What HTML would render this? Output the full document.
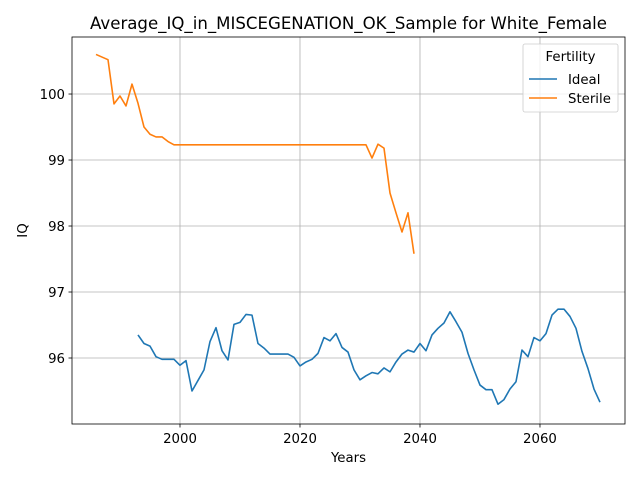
<!DOCTYPE html>
<html><head><meta charset="utf-8"><style>
body{margin:0;background:#fff;font-family:"Liberation Sans","DejaVu Sans",sans-serif;}
svg text{font-family:"DejaVu Sans","Liberation Sans",sans-serif;}
</style></head><body>
<svg id="chart" width="640" height="480" xmlns="http://www.w3.org/2000/svg"></svg>
<script>
const idealYears = [1993,1994,1995,1996,1997,1998,1999,2000,2001,2002,2003,2004,2005,2006,2007,2008,2009,2010,2011,2012,2013,2014,2015,2016,2017,2018,2019,2020,2021,2022,2023,2024,2025,2026,2027,2028,2029,2030,2031,2032,2033,2034,2035,2036,2037,2038,2039,2040,2041,2042,2043,2044,2045,2046,2047,2048,2049,2050,2051,2052,2053,2054,2055,2056,2057,2058,2059,2060,2061,2062,2063,2064,2065,2066,2067,2068,2069,2070];
const idealValues = [96.35,96.22,96.18,96.02,95.98,95.98,95.98,95.89,95.96,95.50,95.66,95.82,96.25,96.46,96.11,95.97,96.51,96.54,96.66,96.65,96.22,96.15,96.06,96.06,96.06,96.06,96.01,95.88,95.94,95.98,96.07,96.31,96.26,96.37,96.16,96.09,95.82,95.67,95.73,95.78,95.76,95.85,95.79,95.94,96.06,96.12,96.09,96.22,96.11,96.35,96.45,96.53,96.70,96.55,96.39,96.07,95.82,95.59,95.52,95.52,95.30,95.37,95.53,95.64,96.12,96.02,96.31,96.26,96.37,96.65,96.74,96.74,96.63,96.45,96.10,95.84,95.53,95.33];
const sterileYears = [1986,1987,1988,1989,1990,1991,1992,1993,1994,1995,1996,1997,1998,1999,2000,2001,2002,2003,2004,2005,2006,2007,2008,2009,2010,2011,2012,2013,2014,2015,2016,2017,2018,2019,2020,2021,2022,2023,2024,2025,2026,2027,2028,2029,2030,2031,2032,2033,2034,2035,2036,2037,2038,2039];
const sterileValues = [100.60,100.56,100.52,99.85,99.97,99.82,100.15,99.86,99.50,99.39,99.35,99.35,99.28,99.23,99.23,99.23,99.23,99.23,99.23,99.23,99.23,99.23,99.23,99.23,99.23,99.23,99.23,99.23,99.23,99.23,99.23,99.23,99.23,99.23,99.23,99.23,99.23,99.23,99.23,99.23,99.23,99.23,99.23,99.23,99.23,99.23,99.03,99.24,99.18,98.50,98.20,97.91,98.20,97.58];
const xTicks = [2000,2020,2040,2060];
const yTicks = [96,97,98,99,100];

const L=72,R=625,T=37,B=424;
const X0=1982,X1=2074.17,Y0=95.0,Y1=100.864;
const sx=v=>L+(v-X0)/(X1-X0)*(R-L);
const sy=v=>B-(v-Y0)/(Y1-Y0)*(B-T);
const svg=document.getElementById('chart');
const NS='http://www.w3.org/2000/svg';
function mk(tag,attrs,parent){const e=document.createElementNS(NS,tag);for(const k in attrs)e.setAttribute(k,attrs[k]);(parent||svg).appendChild(e);return e;}

xTicks.forEach(t=>{
  const x=sx(t);
  const g=mk('line',{x1:x,x2:x,y1:T,y2:B,stroke:'#b0b0b0','stroke-width':0.8});
  
  
  mk('line',{x1:x,x2:x,y1:B,y2:B+3.5,stroke:'#000','stroke-width':0.8});
  const tx=mk('text',{x:x,y:B+19,'font-size':13.3,'text-anchor':'middle',fill:'#000'});
  tx.textContent=t;
  
  
});
yTicks.forEach(t=>{
  const y=sy(t);
  const g=mk('line',{x1:L,x2:R,y1:y,y2:y,stroke:'#b0b0b0','stroke-width':0.8});
  
  
  mk('line',{x1:L-3.5,x2:L,y1:y,y2:y,stroke:'#000','stroke-width':0.8});
  const tx=mk('text',{x:L-7,y:y+4.8,'font-size':13.3,'text-anchor':'end',fill:'#000'});
  tx.textContent=t;
  
  
});

function series(xs,ys,color,name){
  const d=xs.map((x,i)=>(i?'L':'M')+sx(x).toFixed(2)+','+sy(ys[i]).toFixed(2)).join('');
  const p=mk('path',{d:d,fill:'none',stroke:color,'stroke-width':1.6,'stroke-linejoin':'round'});
  
  
}
series(idealYears,idealValues,'#1f77b4','ideal-line');
series(sterileYears,sterileValues,'#ff7f0e','sterile-line');

const frame=mk('rect',{x:L,y:T,width:R-L,height:B-T,fill:'none',stroke:'#000','stroke-width':0.8});



const title=mk('text',{x:(L+R)/2,y:29,'font-size':16.6,'text-anchor':'middle',fill:'#000'});
title.textContent='Average_IQ_in_MISCEGENATION_OK_Sample for White_Female';


const xl=mk('text',{x:(L+R)/2,y:462,'font-size':13.3,'text-anchor':'middle',fill:'#000'});
xl.textContent='Years';


const yl=mk('text',{x:0,y:0,'font-size':13.3,'text-anchor':'middle',fill:'#000',transform:'translate(27,'+((T+B)/2)+') rotate(-90)'});
yl.textContent='IQ';



const lg=mk('g',{});


mk('rect',{x:523,y:44,width:95,height:68,rx:2,fill:'#fff','fill-opacity':0.8,stroke:'#ccc','stroke-width':0.8},lg);
const lt=mk('text',{x:570.5,y:61,'font-size':13.3,'text-anchor':'middle',fill:'#000'},lg);
lt.textContent='Fertility';
[['Ideal','#1f77b4',79],['Sterile','#ff7f0e',98]].forEach(([n,c,y])=>{
  const e=mk('g',{},lg);
  
  
  mk('line',{x1:529,x2:557,y1:y,y2:y,stroke:c,'stroke-width':1.5},e);
  const t=mk('text',{x:568,y:y+4.8,'font-size':13.3,fill:'#000'},e);
  t.textContent=n;
});
</script>
</body></html>
